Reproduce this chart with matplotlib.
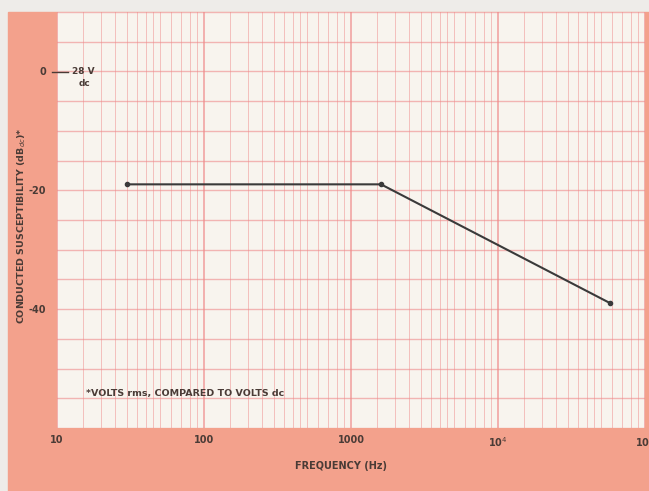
import numpy as np
import matplotlib
matplotlib.use("Agg")
import matplotlib.pyplot as plt
from matplotlib.patches import Rectangle
from matplotlib.lines import Line2D
from matplotlib.ticker import FixedLocator, NullFormatter

# data
freq_hz = [30, 1600, 58000]
level_db = [-19, -19, -39]

x_ticks = [10, 100, 1000, 1e4, 1e5]
x_labels = ["10", "100", "1000", r"10$^4$", r"10$^5$"]
y_ticks = [0, -20, -40]
y_labels = ["0", "-20", "-40"]
sub_steps = [1.5, 2, 2.5, 3, 3.5, 4, 4.5, 5, 6, 7, 8, 9]

SALMON = "#F3A18C"
PAPER = "#F8F4EE"
GRID = "#EF8A8A"
INK = "#4a3b36"

W, H = 649, 491
fig = plt.figure(figsize=(W / 100, H / 100), dpi=100, facecolor="#EEECE9")

# salmon backing band (behind the axes)
fig.patches.append(Rectangle((8 / W, 0), 1 - 8 / W, 1 - 12 / H,
                             transform=fig.transFigure, color=SALMON, zorder=-5))

ax = fig.add_axes([57 / W, 1 - 428 / H, (645 - 57) / W, (428 - 12) / H])
ax.set_facecolor(PAPER)
ax.set_xscale("log")
ax.set_xlim(10, 1e5)
ax.set_ylim(-60, 10)

# graph-paper grid
minor_x = [d * s for d in [10, 100, 1000, 1e4] for s in sub_steps]
ax.xaxis.set_major_locator(FixedLocator(x_ticks))
ax.xaxis.set_minor_locator(FixedLocator(minor_x))
ax.xaxis.set_minor_formatter(NullFormatter())
ax.set_xticks(x_ticks, x_labels)
ax.yaxis.set_major_locator(FixedLocator(np.arange(-60, 11, 5)))
ax.set_yticklabels([y_labels[y_ticks.index(v)] if v in y_ticks else ""
                    for v in np.arange(-60, 11, 5)])
ax.grid(which="major", axis="x", color=GRID, lw=1.2, alpha=0.75)
ax.grid(which="major", axis="y", color=GRID, lw=1.0, alpha=0.6)
ax.grid(which="minor", axis="x", color=GRID, lw=0.7, alpha=0.5)
ax.set_axisbelow(True)
ax.tick_params(which="both", length=0, labelsize=7, labelcolor=INK)
ax.tick_params(axis="x", pad=5)
ax.tick_params(axis="y", pad=8)
for lbl in ax.get_xticklabels() + ax.get_yticklabels():
    lbl.set_fontweight("bold")
for s in ax.spines.values():
    s.set_visible(False)

ax.plot(freq_hz, level_db, color="#3a3a3a", lw=1.5, marker="o", ms=3, zorder=5)

# "28 V dc" reference mark
fig.add_artist(Line2D([52 / W, 68 / W], [1 - 72 / H, 1 - 72 / H],
                      color=INK, lw=1, transform=fig.transFigure))
fig.text(72 / W, 1 - 72 / H, "28 V", fontsize=6.5, color=INK, va="center",
         fontweight="bold")
fig.text(79 / W, 1 - 84 / H, "dc", fontsize=6.5, color=INK, va="center",
         fontweight="bold")

ax.text(0.05, 0.083, "*VOLTS rms, COMPARED TO VOLTS dc", transform=ax.transAxes,
        fontsize=6.8, color=INK, fontweight="bold", va="center")

fig.text(341 / W, 1 - 466 / H, "FREQUENCY (Hz)", fontsize=7, color=INK,
         ha="center", va="center", fontweight="bold")
fig.text(22 / W, 1 - 226 / H, r"CONDUCTED SUSCEPTIBILITY (dB$_{dc}$)*", fontsize=6.8,
         color=INK, ha="center", va="center", rotation=90, fontweight="bold")

fig.savefig("out.png", dpi=100, facecolor=fig.get_facecolor())
